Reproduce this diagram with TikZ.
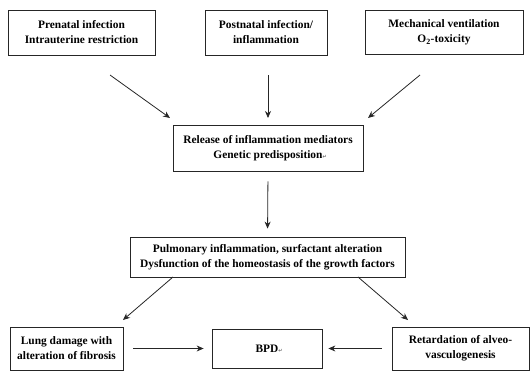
\documentclass[tikz,border=0pt]{standalone}
\usepackage{fontspec}
\setmainfont{Liberation Serif}
\newfontfamily\symfont{DejaVu Sans}
\usetikzlibrary{arrows.meta}
\begin{document}
\begin{tikzpicture}[x=1pt,y=-1pt,
  box/.style={draw=black!85,line width=0.8pt,inner sep=0pt,align=center,font=\bfseries\fontsize{11.4}{15}\selectfont},
  arr/.style={draw=black!85,line width=0.8pt,-{Stealth[length=7pt,width=6pt]}}]
\useasboundingbox (0,0) rectangle (530,370);
\node[box,minimum width=147pt,minimum height=45pt] (b1) at (81.5,32.5) {Prenatal infection\\Intrauterine restriction};
\node[box,minimum width=122pt,minimum height=45pt] (b2) at (266,32.5) {Postnatal infection/\\inflammation};
\node[box,minimum width=158pt,minimum height=44pt] (b3) at (444,32.5) {Mechanical ventilation\\O\textsubscript{2}-toxicity};
\node[box,minimum width=190pt,minimum height=46pt] (rel) at (268,148) {Release of inflammation mediators\\Genetic predisposition\rlap{\symfont\fontsize{5}{5}\selectfont\textcolor{black!60}{↵}}};
\node[box,minimum width=275pt,minimum height=40pt] (pul) at (267.5,257) {Pulmonary inflammation, surfactant alteration\\Dysfunction of the homeostasis of the growth factors};
\node[box,minimum width=113pt,minimum height=43pt] (lung) at (66.5,348.5) {Lung damage with\\alteration of fibrosis};
\node[box,minimum width=110pt,minimum height=39pt] (bpd) at (267,348.5) {BPD\rlap{\symfont\fontsize{5}{5}\selectfont\textcolor{black!60}{↵}}};
\node[box,minimum width=137pt,minimum height=43pt] (ret) at (460.5,348.5) {Retardation of alveo-\\vasculogenesis};
\coordinate (s1) at (110,75);
\coordinate (e1) at (170,118);
\coordinate (s2) at (268,75);
\coordinate (e2) at (268,118);
\coordinate (s3) at (420,75);
\coordinate (e3) at (368,118);
\coordinate (s4) at (173,277);
\coordinate (e4) at (123,320);
\coordinate (s5) at (358,277);
\coordinate (e5) at (408,320);
\draw[arr] (s1) -- (e1);
\draw[arr] (s2) -- (e2);
\draw[arr] (s3) -- (e3);
\draw[arr,shorten <=10pt,shorten >=8pt] (rel.south) -- (pul.north);
\draw[arr] (s4) -- (e4);
\draw[arr] (s5) -- (e5);
\draw[arr,shorten <=10pt,shorten >=8pt] (lung.east) -- (bpd.west);
\draw[arr,shorten <=10pt,shorten >=6pt] (ret.west) -- (bpd.east);
\end{tikzpicture}
\end{document}
